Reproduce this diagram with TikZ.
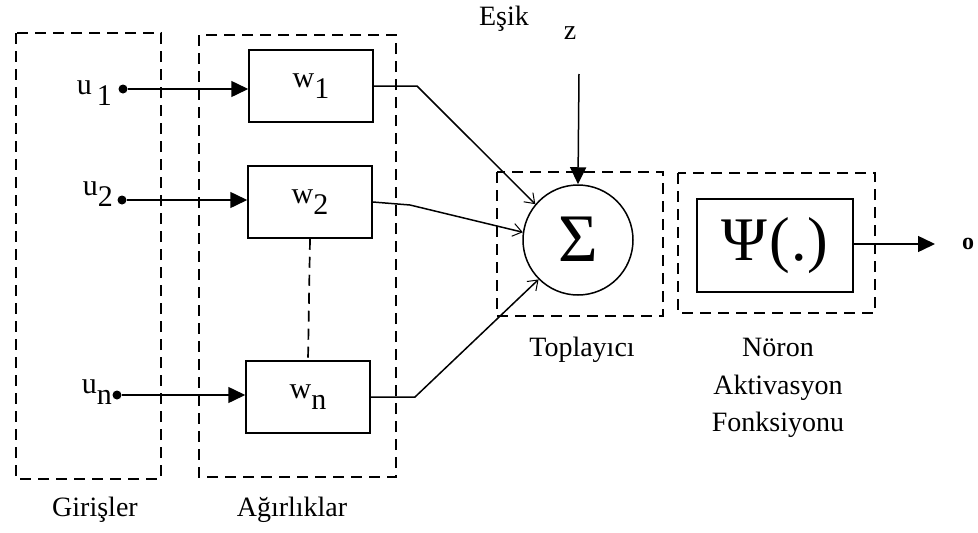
\documentclass[tikz,border=0pt]{standalone}
\usepackage{fontspec}
\setmainfont{Liberation Serif}
\usetikzlibrary{arrows.meta}
\newcommand{\lowsub}[1]{\raisebox{-0.85ex}{#1}}
\begin{document}
\begin{tikzpicture}[x=1pt,y=-1pt,
  group/.style={draw,dash pattern=on 11pt off 7pt,line width=1.7pt},
  wbox/.style={draw,line width=1.5pt,minimum width=124pt,minimum height=72pt,inner sep=0pt,font=\fontsize{30}{32}\selectfont},
  dot/.style={circle,fill,inner sep=0pt,minimum size=9pt},
  lbl/.style={font=\fontsize{28}{32}\selectfont,inner sep=0pt},
  ulbl/.style={font=\fontsize{30}{32}\selectfont,inner sep=0pt,anchor=east},
  sig/.style={line width=1.5pt},
  fat/.style={-{Triangle[length=17pt,width=16pt]}},
  thin/.style={-{Straight Barb[length=9pt,width=13pt,line width=1pt]}}
]
\useasboundingbox (0,0) rectangle (978,533);
\fill[white] (0,0) rectangle (978,533);
% group boxes
\draw[group] (16,33) rectangle (161,479);
\draw[group] (199,35) rectangle (396,477);
\draw[group] (497,172) rectangle (663,316);
\draw[group] (678,173) rectangle (875,313);
% weight boxes
\node[wbox] (w1) at (311,86) {\raisebox{0.5ex}{w\lowsub{1}}};
\node[wbox] (w2) at (310,202) {\raisebox{0.5ex}{w\lowsub{2}}};
\node[wbox] (wn) at (308,397) {\raisebox{0.5ex}{w\lowsub{n}}};
% inputs
\node[dot] (u1) at (123,89) {};
\node[dot] (u2) at (122,200) {};
\node[dot] (un) at (117,395) {};
\node[ulbl] (lu1) at (112,93) {u\,\lowsub{1}};
\node[ulbl] (lu2) at (113,194) {u\lowsub{2}};
\node[ulbl] (lun) at (112,392) {u\lowsub{n}};
\draw[sig,fat] (u1) -- (w1.west |- u1);
\draw[sig,fat] (u2) -- (w2.west |- u2);
\draw[sig,fat] (un) -- (wn.west |- un);
\draw[group] (w2.south) -- (wn.north);
% summation
\node[draw,circle,line width=1.5pt,minimum size=110pt,inner sep=0pt,font=\fontsize{68}{68}\selectfont] (sum) at (578,240) {\raisebox{0.05ex}{Σ}};
\draw[sig,thin] (w1.east) -- (417,86) -- (sum.140);
\draw[sig,thin] (w2.east) -- (410,205) -- (sum.172);
\draw[sig,thin] (wn.east) -- (415,397) -- (sum.225);
% threshold
\node[lbl] (esik) at (504,19) {Eşik};
\node[lbl] (z) at (570,33) {z};
\coordinate (ztop) at (579,74);
\draw[sig,fat] (ztop) -- (sum.north);
% activation
\node[draw,line width=1.5pt,minimum width=156pt,minimum height=93pt,inner sep=0pt,font=\fontsize{62}{62}\selectfont] (psi) at (775,245.5) {Ψ\kern2pt(\kern1pt.\kern1pt)};
\coordinate (oend) at (935,244);
\draw[sig,fat] (psi.east |- oend) -- (oend);
\node[lbl,font=\bfseries\fontsize{24}{28}\selectfont] (o) at (968,244) {o};
% labels
\node[lbl] (top) at (582,350) {Toplayıcı};
\node[lbl,align=center,font=\fontsize{28}{37.5}\selectfont] (act) at (778,388) {Nöron\\Aktivasyon\\Fonksiyonu};
\node[lbl] (gir) at (95,510) {Girişler};
\node[lbl] (agr) at (292,510) {Ağırlıklar};
\end{tikzpicture}
\end{document}
